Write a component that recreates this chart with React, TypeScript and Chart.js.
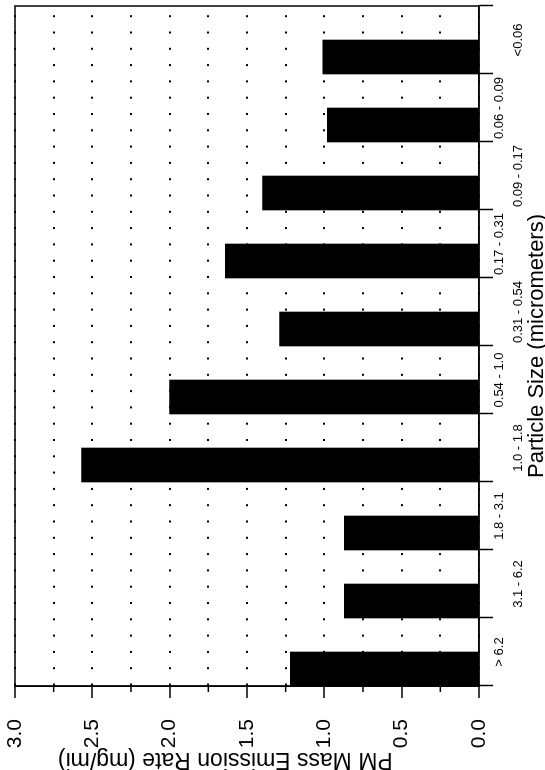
import React, { useEffect, useRef } from "react";
import { Chart, registerables } from "chart.js";

Chart.register(...registerables);

// Particle size bins, largest first
const sizeRanges = [
  "> 6.2",
  "3.1 - 6.2",
  "1.8 - 3.1",
  "1.0 - 1.8",
  "0.54 - 1.0",
  "0.31 - 0.54",
  "0.17 - 0.31",
  "0.09 - 0.17",
  "0.06 - 0.09",
  "<0.06",
];

// PM mass emission rate per bin (mg/mi)
const emissionRates = [1.22, 0.87, 0.87, 2.57, 2.0, 1.29, 1.64, 1.4, 0.98, 1.01];

// Second group slot (no data), keeps each bar in the left half of its bin
const emptySeries = [null, null, null, null, null, null, null, null, null, null];

// Value axis: gridlines every 0.25, labels every 0.5
const rateTickValues = [0, 0.25, 0.5, 0.75, 1, 1.25, 1.5, 1.75, 2, 2.25, 2.5, 2.75, 3];
const rateTickLabels = ["0.0", "", "0.5", "", "1.0", "", "1.5", "", "2.0", "", "2.5", "", "3.0"];

const rateAxisTitle = "PM Mass Emission Rate (mg/mi)";
const sizeAxisTitle = "Particle Size (micrometers)";

const FONT = "'Liberation Sans', Arial, Helvetica, sans-serif";
const W = 770;
const H = 545;

const framePlugin = {
  id: "frame",
  afterDraw(chart: any) {
    const { ctx, chartArea } = chart;
    const { left, top, right, bottom } = chartArea;
    ctx.save();
    ctx.setLineDash([]);
    ctx.strokeStyle = "#000";
    ctx.lineWidth = 1.5;
    ctx.strokeRect(left, top, right - left, bottom - top);
    // short marks for the unlabelled quarter steps
    const y = chart.scales.y;
    y.ticks.forEach((t: any, i: number) => {
      if (rateTickLabels[i] === "") {
        const p = y.getPixelForValue(t.value);
        ctx.beginPath();
        ctx.moveTo(left - 6, p);
        ctx.lineTo(left, p);
        ctx.stroke();
      }
    });
    // value-axis title, set a little toward the upper end of the axis
    const mid = y.getPixelForValue(1.64);
    ctx.translate(11, mid);
    ctx.rotate(-Math.PI / 2);
    ctx.fillStyle = "#000";
    ctx.font = `23px ${FONT}`;
    ctx.textAlign = "center";
    ctx.textBaseline = "middle";
    ctx.fillText(rateAxisTitle, 0, 0);
    ctx.restore();
  },
};

export default function App() {
  const canvasRef = useRef<HTMLCanvasElement | null>(null);

  useEffect(() => {
    const canvas = canvasRef.current;
    if (!canvas) return;
    const chart = new Chart(canvas, {
      type: "bar",
      data: {
        labels: sizeRanges,
        datasets: [
          {
            label: "PM mass",
            data: emissionRates,
            backgroundColor: "#000",
            borderWidth: 0,
            categoryPercentage: 1,
            barPercentage: 1,
          },
          {
            label: "",
            data: emptySeries,
            backgroundColor: "#000",
            borderWidth: 0,
            categoryPercentage: 1,
            barPercentage: 1,
          },
        ],
      },
      options: {
        responsive: false,
        animation: false,
        devicePixelRatio: 1,
        layout: { padding: { top: 15, right: 6, left: 0, bottom: 0 } },
        plugins: {
          legend: { display: false },
          tooltip: { enabled: false },
          title: { display: false },
        },
        scales: {
          x: {
            type: "category",
            offset: true,
            grid: {
              offset: true,
              drawOnChartArea: false,
              tickLength: 14,
              tickColor: "#000",
              tickWidth: 1.5,
              color: "#000",
            },
            border: { display: true, color: "#000", width: 1.5 },
            ticks: {
              autoSkip: false,
              maxRotation: 0,
              minRotation: 0,
              padding: -3,
              color: "#000",
              font: { family: FONT, size: 13, lineHeight: 1.45 },
              callback: (_v: any, i: number) => (i % 2 === 1 ? ["", sizeRanges[i]] : sizeRanges[i]),
            },
            title: {
              display: true,
              text: sizeAxisTitle,
              color: "#000",
              font: { family: FONT, size: 22, lineHeight: 1 },
              padding: { top: 0, bottom: -3 },
            },
            afterFit: (scale: any) => {
              scale.height = 66;
              scale.paddingLeft = 0;
              scale.paddingRight = 0;
            },
          },
          y: {
            type: "linear",
            min: 0,
            max: 3,
            afterBuildTicks: (scale: any) => {
              scale.ticks = rateTickValues.map((value) => ({ value }));
            },
            grid: {
              color: "#000",
              lineWidth: 2,
              tickLength: 12,
              tickWidth: 1.5,
              tickColor: (c: any) => (rateTickLabels[c.index] === "" ? "rgba(0,0,0,0)" : "#000"),
            },
            border: { display: true, color: "#000", width: 1.5, dash: [2, 14.3] },
            ticks: {
              padding: 21,
              color: "#000",
              font: { family: FONT, size: 21 },
              callback: (_v: any, i: number) => rateTickLabels[i],
            },
            title: { display: false },
            afterFit: (scale: any) => {
              scale.width = 84;
              scale.paddingTop = 0;
              scale.paddingBottom = 0;
            },
          },
        },
      },
      plugins: [framePlugin],
    });
    return () => chart.destroy();
  }, []);

  return (
    <div
      style={{
        position: "fixed",
        left: 0,
        top: 0,
        width: H,
        height: W,
        overflow: "hidden",
        background: "#fff",
      }}
    >
      <div
        style={{
          position: "absolute",
          left: 0,
          top: 0,
          width: W,
          height: H,
          transformOrigin: "0 0",
          transform: `translateY(${W}px) rotate(-90deg)`,
        }}
      >
        <canvas ref={canvasRef} width={W} height={H} style={{ display: "block", width: W, height: H }} />
      </div>
    </div>
  );
}
